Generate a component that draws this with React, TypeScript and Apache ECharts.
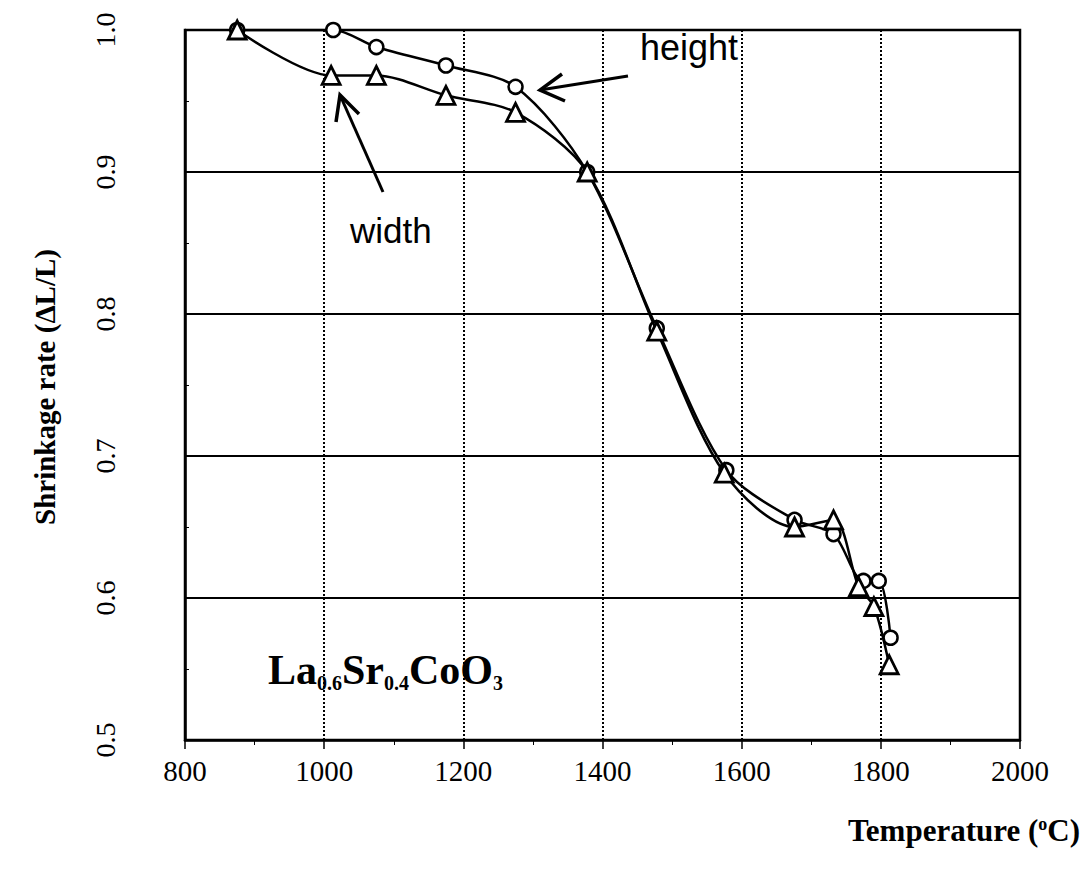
import React, { useEffect, useRef } from "react";
import * as echarts from "echarts";

const heightSeries: [number, number][] = [
  [875, 1.0], [1013, 1.0], [1075, 0.988], [1175, 0.975], [1275, 0.96], [1378, 0.9],
  [1478, 0.79], [1578, 0.69], [1676, 0.655], [1732, 0.645], [1775, 0.612], [1797, 0.612], [1814, 0.572],
];
const widthSeries: [number, number][] = [
  [875, 1.0], [1010, 0.968], [1075, 0.968], [1175, 0.954], [1275, 0.942], [1378, 0.9],
  [1478, 0.788], [1575, 0.688], [1676, 0.65], [1732, 0.655], [1768, 0.608], [1790, 0.594], [1812, 0.553],
];
const xTicks = [800, 1000, 1200, 1400, 1600, 1800, 2000];
const yTicks = [0.5, 0.6, 0.7, 0.8, 0.9, 1.0];

const serif = "'Liberation Serif', 'DejaVu Serif', serif";
const sans = "'Liberation Sans', 'DejaVu Sans', sans-serif";

export default function App() {
  const ref = useRef<HTMLDivElement>(null);
  useEffect(() => {
    if (!ref.current) return;
    const chart = echarts.init(ref.current, null, { renderer: "svg" });
    const lineStyle = { color: "#000", width: 2.5 };
    chart.setOption({
      animation: false,
      backgroundColor: "#fff",
      grid: { left: 185, right: 63, top: 30, bottom: 135, show: true, borderColor: "#000", borderWidth: 2.5, backgroundColor: "transparent" },
      xAxis: {
        type: "value",
        min: xTicks[0],
        max: xTicks[xTicks.length - 1],
        interval: 200,
        axisLine: { lineStyle: { color: "#000", width: 2.5 } },
        axisTick: { show: true, length: 9, inside: false, lineStyle: { color: "#000", width: 1.5 } },
        minorTick: { show: true, splitNumber: 2, length: 5, lineStyle: { color: "#000" } },
        axisLabel: { color: "#000", fontFamily: serif, fontSize: 29, margin: 16, formatter: (v: number) => String(v) },
        splitLine: { show: true, lineStyle: { color: "#000", width: 2, type: [2, 2] } },
      },
      yAxis: {
        type: "value",
        min: yTicks[0],
        max: yTicks[yTicks.length - 1],
        interval: 0.1,
        axisLine: { lineStyle: { color: "#000", width: 2.5 } },
        axisTick: { show: true, inside: true, length: 4, lineStyle: { color: "#000" } },
        minorTick: { show: true, splitNumber: 2, length: 4, lineStyle: { color: "#000" } },
        axisLabel: {
          color: "#000", fontFamily: serif, fontSize: 28, rotate: 90, margin: 66,
          formatter: (v: number) => v.toFixed(1),
        },
        splitLine: { show: true, lineStyle: { color: "#000", width: 2 } },
      },
      series: [
        {
          name: "height", type: "line", data: heightSeries, smooth: 0.3,
          symbol: "circle", symbolSize: 14, showSymbol: true,
          lineStyle, itemStyle: { color: "#fff", borderColor: "#000", borderWidth: 2.5 }, z: 3,
        },
        {
          name: "width", type: "line", data: widthSeries, smooth: 0.3,
          symbol: "triangle", symbolSize: 18, showSymbol: true,
          lineStyle, itemStyle: { color: "#fff", borderColor: "#000", borderWidth: 2.8 }, z: 4,
        },
      ],
      graphic: [
        {
          type: "text", x: 45, y: 387, rotation: Math.PI / 2,
          style: { text: "Shrinkage rate (ΔL/L)", font: `bold 29px ${serif}`, fill: "#000", textAlign: "center", textVerticalAlign: "middle" },
        },
        {
          type: "text", x: 1080, y: 830,
          style: {
            text: "{a|Temperature (}{s|o}{a|C)}",
            textAlign: "right", textVerticalAlign: "middle",
            rich: {
              a: { font: `bold 31px ${serif}`, fill: "#000", verticalAlign: "bottom" },
              s: { font: `bold 18px ${serif}`, fill: "#000", verticalAlign: "top" },
            },
          },
        },
        {
          type: "text", x: 268, y: 670,
          style: {
            text: "{b|La}{s|0.6}{b|Sr}{s|0.4}{b|CoO}{s|3}",
            textVerticalAlign: "middle",
            rich: {
              b: { font: `bold 42px ${serif}`, fill: "#000", verticalAlign: "top", height: 46 },
              s: { font: `bold 20px ${serif}`, fill: "#000", verticalAlign: "top", padding: [25, 0, 0, 0], height: 22 },
            },
          },
        },
        {
          type: "text", x: 640, y: 47,
          style: { text: "height", font: `36px ${sans}`, fill: "#000", textVerticalAlign: "middle" },
        },
        {
          type: "text", x: 350, y: 230,
          style: { text: "width", font: `35px ${sans}`, fill: "#000", textVerticalAlign: "middle" },
        },
        { type: "line", shape: { x1: 628, y1: 76, x2: 540, y2: 90 }, style: { stroke: "#000", lineWidth: 3 } },
        { type: "polyline", shape: { points: [[562, 74], [540, 90], [565, 101]] }, style: { stroke: "#000", lineWidth: 3.5, fill: null } },
        { type: "line", shape: { x1: 383, y1: 192, x2: 340, y2: 95 }, style: { stroke: "#000", lineWidth: 3 } },
        { type: "polyline", shape: { points: [[336, 122], [340, 95], [359, 114]] }, style: { stroke: "#000", lineWidth: 3.5, fill: null } },
      ],
    });
    return () => chart.dispose();
  }, []);
  return <div ref={ref} style={{ position: "absolute", left: 0, top: 0, width: 1083, height: 875 }} />;
}
